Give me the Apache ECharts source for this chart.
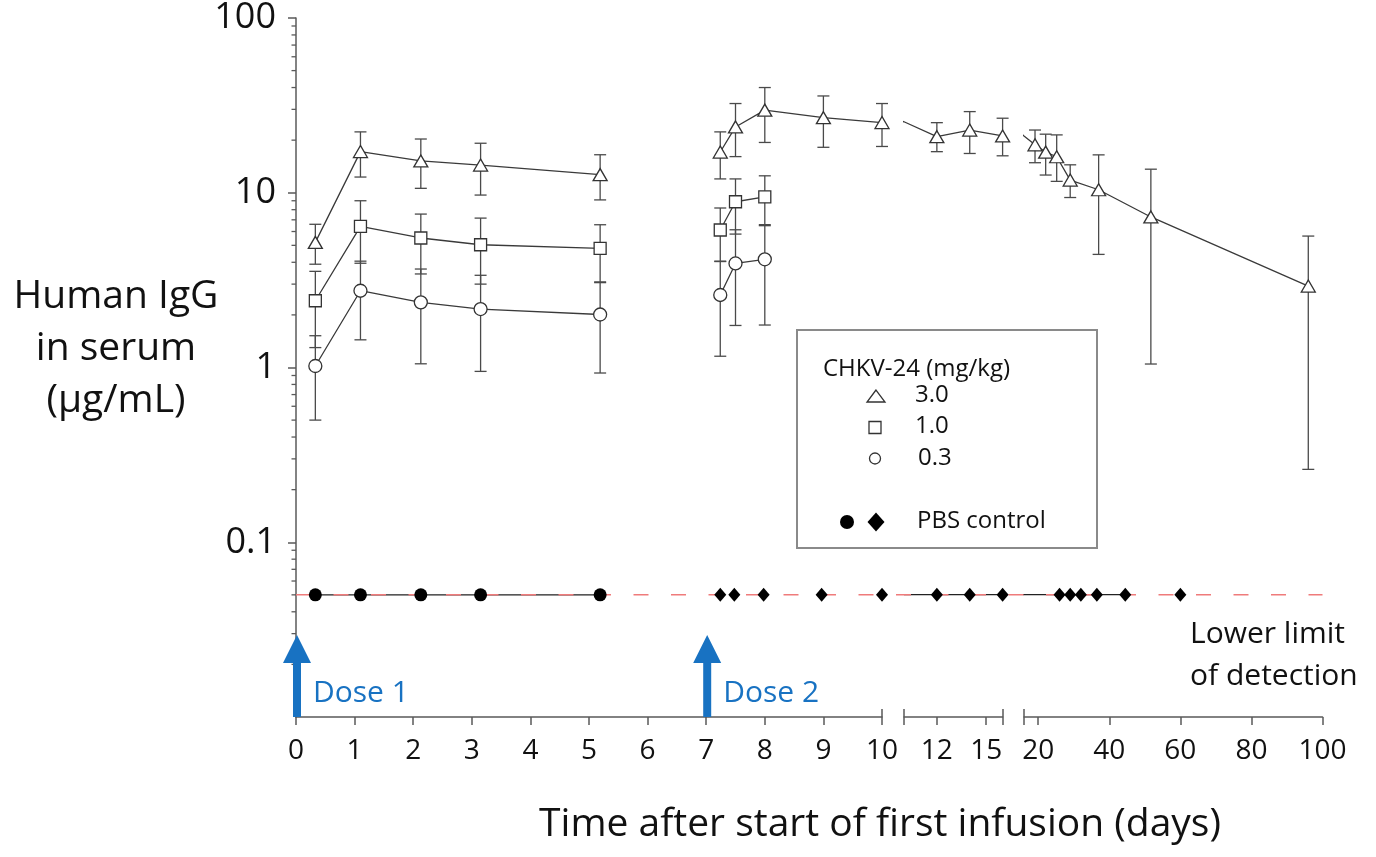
<!DOCTYPE html>
<html>
<head>
<meta charset="utf-8">
<title>Human IgG in serum after CHKV-24 infusion</title>
<script src="https://cdn.jsdelivr.net/npm/echarts@6/dist/echarts.min.js"></script>
<style>
  html, body { margin: 0; padding: 0; background: #fff; }
  #chart { width: 1376px; height: 857px; }
</style>
</head>
<body>
<div id="chart"></div>
<script>
// sampling days, counted from the start of the first infusion
const dose1Days = [0.33, 1.1, 2.13, 3.15, 5.19];
const dose2Days = [7.24, 7.5, 8, 9, 10, 12, 14, 16, 19.1, 22.1, 25.2, 29, 37, 51.7, 96];
const dose2ShortDays = [7.24, 7.5, 8];

// CHKV-24 3.0 mg/kg : mean and error bar ends (ug/mL)
const hiMean1 = [5.2, 17.2, 15.2, 14.4, 12.7];
const hiLow1 = [3.9, 12.3, 10.6, 9.7, 9.1];
const hiHigh1 = [6.6, 22.3, 20.3, 19.2, 16.5];
const hiMean2 = [17.1, 23.8, 29.7, 26.9, 25.2, 20.7, 22.6, 20.9, 18.6, 16.9, 15.9, 11.7, 10.3, 7.2, 2.9];
const hiLow2 = [12.0, 16.1, 19.4, 18.2, 18.4, 17.0, 16.6, 16.1, 14.7, 12.5, 11.5, 9.3, 4.4, 1.04, 0.26];
const hiHigh2 = [22.3, 32.4, 40.0, 35.8, 32.4, 24.9, 28.8, 26.4, 22.6, 21.4, 21.2, 14.3, 16.3, 13.5, 5.6];

// 1.0 mg/kg
const midMean1 = [2.41, 6.42, 5.51, 5.04, 4.81];
const midLow1 = [1.30, 3.95, 3.43, 3.0, 3.06];
const midHigh1 = [3.55, 9.0, 7.55, 7.16, 6.56];
const midMean2 = [6.12, 8.88, 9.48];
const midLow2 = [4.06, 5.8, 6.48];
const midHigh2 = [8.18, 12.0, 12.5];

// 0.3 mg/kg
const lowMean1 = [1.02, 2.75, 2.36, 2.16, 2.01];
const lowLow1 = [0.50, 1.44, 1.05, 0.95, 0.93];
const lowHigh1 = [1.52, 4.06, 3.66, 3.37, 3.09];
const lowMean2 = [2.60, 3.94, 4.16];
const lowLow2 = [1.16, 1.74, 1.75];
const lowHigh2 = [4.04, 6.14, 6.57];

// PBS control, all at the lower limit of detection
const pbsCircleDays = [0.33, 1.1, 2.13, 3.15, 5.19];
const pbsCircleValues = [0.05, 0.05, 0.05, 0.05, 0.05];
const pbsDiamondDays = [7.24, 7.48, 7.98, 8.97, 10, 12, 14, 16, 26, 29, 32, 36.5, 44.5, 60];
const pbsDiamondValues = [0.05, 0.05, 0.05, 0.05, 0.05, 0.05, 0.05, 0.05, 0.05, 0.05, 0.05, 0.05, 0.05, 0.05];
const pbsLinkedFrom = 10;
const pbsLinkedTo = 44.5;

const lowerLimit = 0.05;
const doseDays = [0, 7];
const doseLabels = ['Dose 1', 'Dose 2'];

// broken time axis, three pieces
const segMin = [0, 10, 16];
const segMax = [10, 16, 100];
const segTicks = [null, [10, 12, 15, 16], [16, 20, 40, 60, 80, 100]];
const segLabels = [null, [12, 15], [20, 40, 60, 80, 100]];
const segEdges = [[10], [10, 16], [16]];

// log y axis
const yMin = 0.01;
const yMax = 100;
const yMinorTicks = [0.02, 0.03, 0.04, 0.05, 0.06, 0.07, 0.08, 0.09,
  0.2, 0.3, 0.4, 0.5, 0.6, 0.7, 0.8, 0.9,
  2, 3, 4, 5, 6, 7, 8, 9,
  20, 30, 40, 50, 60, 70, 80, 90];

// layout
const segLeft = [296, 904, 1024];
const segWidth = [586, 98.6, 298.5];
const plotTop = 17;
const plotHeight = 700;

const FONT = '"Open Sans", "Noto Sans", sans-serif';
const BLUE = '#1872c2';
const INK = '#3a3a3a';
const axisLine = { color: '#5a5a5a', width: 1.5 };

const segOf = d => (d <= segMax[0] ? 0 : d <= segMax[1] ? 1 : 2);
const pts = (days, vals) => days.map((d, i) => [d, vals[i]]);
const bars = (days, lo, hi) => days.map((d, i) => [d, lo[i], hi[i]]);
const GAP = ['-', '-'];

const groups = [
  {
    symbol: 'triangle', size: [14, 12],
    line: [...pts(dose1Days, hiMean1), GAP, ...pts(dose2Days, hiMean2)],
    err: [...bars(dose1Days, hiLow1, hiHigh1), ...bars(dose2Days, hiLow2, hiHigh2)]
  },
  {
    symbol: 'rect', size: [12, 12],
    line: [...pts(dose1Days, midMean1), GAP, ...pts(dose2ShortDays, midMean2)],
    err: [...bars(dose1Days, midLow1, midHigh1), ...bars(dose2ShortDays, midLow2, midHigh2)]
  },
  {
    symbol: 'circle', size: 13,
    line: [...pts(dose1Days, lowMean1), GAP, ...pts(dose2ShortDays, lowMean2)],
    err: [...bars(dose1Days, lowLow1, lowHigh1), ...bars(dose2ShortDays, lowLow2, lowHigh2)]
  }
];

const pbsCircles = pts(pbsCircleDays, pbsCircleValues);
const pbsDiamonds = pts(pbsDiamondDays, pbsDiamondValues);

function renderErrorBar(params, api) {
  const x = api.value(0);
  const lo = api.coord([x, api.value(1)]);
  const hi = api.coord([x, api.value(2)]);
  const w = 6;
  const style = { stroke: '#4a4a4a', lineWidth: 1.3 };
  return {
    type: 'group',
    children: [
      { type: 'line', shape: { x1: lo[0], y1: lo[1], x2: hi[0], y2: hi[1] }, style },
      { type: 'line', shape: { x1: hi[0] - w, y1: hi[1], x2: hi[0] + w, y2: hi[1] }, style },
      { type: 'line', shape: { x1: lo[0] - w, y1: lo[1], x2: lo[0] + w, y2: lo[1] }, style }
    ]
  };
}

function renderDoseArrow(params, api) {
  const p = api.coord([api.value(0), yMin]);
  const x = p[0] + 1;
  const y = p[1];
  return {
    type: 'group',
    children: [
      { type: 'rect', shape: { x: x - 4, y: y - 55, width: 8, height: 55 }, style: { fill: BLUE } },
      { type: 'polygon', shape: { points: [[x - 14, y - 54], [x, y - 82], [x + 14, y - 54]] }, style: { fill: BLUE } },
      {
        type: 'text', x: x + 16, y: y - 24,
        style: { text: doseLabels[params.dataIndex], font: '30px ' + FONT, fill: BLUE, align: 'left', verticalAlign: 'middle' }
      }
    ]
  };
}

function renderMinorTick(params, api) {
  const p = api.coord([segMin[0], api.value(1)]);
  return {
    type: 'line',
    shape: { x1: p[0] - 4.5, y1: p[1], x2: p[0], y2: p[1] },
    style: { stroke: axisLine.color, lineWidth: 1.3 }
  };
}

const grids = [];
const xAxes = [];
const yAxes = [];
const series = [];

for (let g = 0; g < 3; g++) {
  grids.push({ left: segLeft[g], top: plotTop, width: segWidth[g], height: plotHeight });
  xAxes.push({
    type: 'value', gridIndex: g, min: segMin[g], max: segMax[g], position: 'bottom',
    interval: g === 0 ? 1 : undefined,
    axisLine: { show: true, lineStyle: axisLine },
    axisTick: { show: true, length: 8, lineStyle: axisLine, customValues: segTicks[g] || undefined },
    axisLabel: { fontSize: 28, fontFamily: FONT, color: '#111', margin: 20, customValues: segLabels[g] || undefined },
    splitLine: { show: false }
  });
  // upward half of the break marks
  xAxes.push({
    type: 'value', gridIndex: g, min: segMin[g], max: segMax[g], position: 'bottom',
    axisLine: { show: false },
    axisTick: { show: true, inside: true, length: 8, lineStyle: axisLine, customValues: segEdges[g] },
    axisLabel: { show: false },
    splitLine: { show: false }
  });
  yAxes.push({
    type: 'log', logBase: 10, gridIndex: g, min: yMin, max: yMax, position: 'left',
    show: g === 0,
    axisLine: { show: true, lineStyle: axisLine },
    axisTick: { show: true, length: 8, lineStyle: axisLine },
    axisLabel: { fontSize: 36, fontFamily: FONT, color: '#111', margin: 20, showMinLabel: false },
    splitLine: { show: false }
  });
}
// overlay grid for the detection limit line running over the whole width
grids.push({ left: segLeft[0], top: plotTop, width: segLeft[2] + segWidth[2] - segLeft[0], height: plotHeight });
xAxes.push({ type: 'value', gridIndex: 3, min: 0, max: 1, show: false });
yAxes.push({ type: 'log', logBase: 10, gridIndex: 3, min: yMin, max: yMax, show: false });

for (let g = 0; g < 3; g++) {
  const axes = { xAxisIndex: 2 * g, yAxisIndex: g };
  groups.forEach(grp => {
    series.push({
      type: 'custom', ...axes, z: 1, renderItem: renderErrorBar,
      encode: { x: 0, y: [1, 2] },
      data: grp.err.filter(e => segOf(e[0]) === g)
    });
    series.push({
      type: 'line', ...axes, z: 2, data: grp.line, showSymbol: false, clip: true,
      lineStyle: { color: INK, width: 1.3 }
    });
    series.push({
      type: 'scatter', ...axes, z: 4, symbol: grp.symbol, symbolSize: grp.size,
      itemStyle: { color: '#fff', borderColor: '#333', borderWidth: 1.3, opacity: 1 },
      data: grp.line.filter(p => p[0] !== '-' && segOf(p[0]) === g)
    });
  });
  if (g === 0) {
    series.push({
      type: 'line', ...axes, z: 2, data: pbsCircles, showSymbol: false,
      lineStyle: { color: '#222', width: 1.3 }
    });
    series.push({
      type: 'scatter', ...axes, z: 4, symbol: 'circle', symbolSize: 13,
      itemStyle: { color: '#000', opacity: 1 }, data: pbsCircles
    });
  } else {
    series.push({
      type: 'line', ...axes, z: 2, showSymbol: false, clip: true,
      data: pbsDiamonds.filter(p => p[0] >= pbsLinkedFrom && p[0] <= pbsLinkedTo),
      lineStyle: { color: '#222', width: 1.3 }
    });
  }
  series.push({
    type: 'scatter', ...axes, z: 4, symbol: 'diamond', symbolSize: [12, 14],
    itemStyle: { color: '#000', opacity: 1 },
    data: pbsDiamonds.filter(p => segOf(p[0]) === g)
  });
}

// minor ticks of the log axis
series.push({
  type: 'custom', xAxisIndex: 0, yAxisIndex: 0, z: 1, renderItem: renderMinorTick,
  encode: { x: 0, y: 1 }, data: yMinorTicks.map(v => [segMin[0], v])
});
// dose arrows
series.push({
  type: 'custom', xAxisIndex: 0, yAxisIndex: 0, z: 6, renderItem: renderDoseArrow,
  encode: { x: 0 }, data: doseDays.map(d => [d])
});
// lower limit of detection
series.push({
  type: 'line', xAxisIndex: 6, yAxisIndex: 3, z: 3, showSymbol: false,
  data: [[0, lowerLimit], [1, lowerLimit]],
  lineStyle: { color: '#ef7b7b', width: 1.5, type: [15, 22.5] }
});

const legendText = (text, x, y, size) => ({
  type: 'text', x, y,
  style: { text, font: size + 'px ' + FONT, fill: '#111', align: 'left', verticalAlign: 'middle' }
});
const hollow = { fill: '#fff', stroke: '#333', lineWidth: 1.3 };

const graphic = [
  {
    type: 'text', x: 116, y: 349,
    style: { text: 'Human IgG\nin serum\n(\u00b5g/mL)', font: '39px ' + FONT, fill: '#111', align: 'center', verticalAlign: 'middle', lineHeight: 52 }
  },
  {
    type: 'text', x: 880, y: 825,
    style: { text: 'Time after start of first infusion (days)', font: '39px ' + FONT, fill: '#111', align: 'center', verticalAlign: 'middle' }
  },
  {
    type: 'text', x: 1190, y: 655,
    style: { text: 'Lower limit\nof detection', font: '30px ' + FONT, fill: '#111', align: 'left', verticalAlign: 'middle', lineHeight: 42 }
  },
  { type: 'rect', shape: { x: 797, y: 330, width: 300, height: 218 }, style: { fill: 'none', stroke: '#8a8a8a', lineWidth: 2 } },
  legendText('CHKV-24 (mg/kg)', 823, 369, 24),
  { type: 'polygon', shape: { points: [[876, 390], [867, 402], [885, 402]] }, style: hollow },
  legendText('3.0', 915, 395, 24),
  { type: 'rect', shape: { x: 869, y: 421.5, width: 12, height: 12 }, style: hollow },
  legendText('1.0', 915, 426.5, 24),
  { type: 'circle', shape: { cx: 875, cy: 458.5, r: 5.5 }, style: hollow },
  legendText('0.3', 918, 458, 24),
  { type: 'circle', shape: { cx: 847, cy: 522, r: 7 }, style: { fill: '#000' } },
  { type: 'polygon', shape: { points: [[876, 512.5], [884.5, 522], [876, 531.5], [867.5, 522]] }, style: { fill: '#000' } },
  legendText('PBS control', 917, 521, 24)
];

const chart = echarts.init(document.getElementById('chart'));
chart.setOption({
  animation: false,
  backgroundColor: '#fff',
  textStyle: { fontFamily: FONT },
  grid: grids,
  xAxis: xAxes,
  yAxis: yAxes,
  series: series,
  graphic: graphic
});
</script>
</body>
</html>
